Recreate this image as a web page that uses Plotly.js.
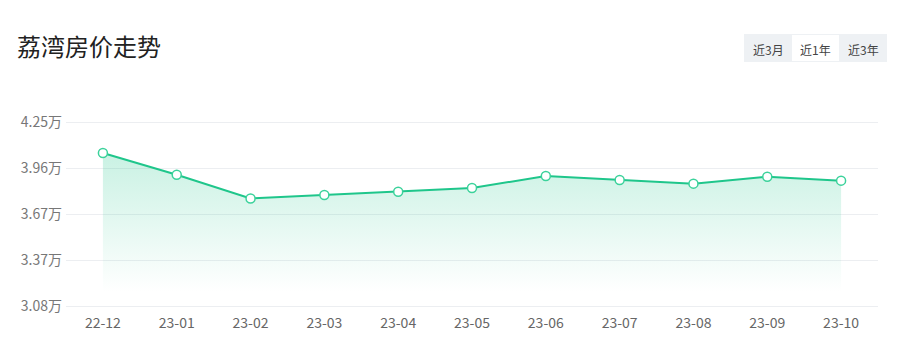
<!DOCTYPE html>
<html>
<head>
<meta charset="utf-8">
<script src="https://cdn.plot.ly/plotly-3.0.1.min.js"></script>
<style>
html,body{margin:0;padding:0;background:#fff;}
#chart{width:906px;height:358px;}
</style>
</head>
<body>
<div id="chart"></div>
<script>
// Data
const months = ['22-12','23-01','23-02','23-03','23-04','23-05','23-06','23-07','23-08','23-09','23-10'];
const prices = [4.053, 3.915, 3.764, 3.786, 3.807, 3.830, 3.907, 3.881, 3.858, 3.902, 3.877];
const yTickVals = [3.08, 3.3725, 3.665, 3.9575, 4.25];
const yTickText = ['3.08万', '3.37万', '3.67万', '3.96万', '4.25万'];
const titleText = '荔湾房价走势';
const buttonLabels = ['近3月', '近1年', '近3年'];

const W = 906, H = 358;
// plot area padded by 2px top/bottom so edge gridlines are drawn
const M = {l: 66, r: 28, t: 120, b: 50};
const PW = W - M.l - M.r, PH = H - M.t - M.b;
const px = x => (x - M.l) / PW;
const py = y => (H - M.b - y) / PH;
const yMin = yTickVals[0], yMax = yTickVals[yTickVals.length - 1];
const perPx = (yMax - yMin) / (PH - 4);

const green = '#1fc68b';
const font = '"Microsoft YaHei", "Noto Sans CJK SC", "Noto Sans", sans-serif';

const trace = {
  x: months,
  y: prices,
  type: 'scatter',
  mode: 'lines+markers',
  line: {color: green, width: 2},
  marker: {size: 9, color: '#ffffff', line: {color: '#3bd29b', width: 1.5}},
  fill: 'tozeroy',
  fillcolor: 'rgba(31,198,139,0.2)',
  fillgradient: {
    type: 'vertical',
    start: 3.17,
    stop: 4.05,
    colorscale: [[0, 'rgba(31,198,139,0)'], [1, 'rgba(31,198,139,0.24)']]
  },
  hoverinfo: 'x+y'
};

// Button group (segmented control)
const by0 = 34, by1 = 62;
const segEdges = [744, 792, 839, 887];
const shapes = [
  {type: 'rect', xref: 'paper', yref: 'paper', x0: px(segEdges[0]), x1: px(segEdges[3]), y0: py(by1), y1: py(by0),
   fillcolor: '#eef1f4', line: {width: 0}, layer: 'above'},
  {type: 'rect', xref: 'paper', yref: 'paper', x0: px(segEdges[1]), x1: px(segEdges[2]), y0: py(by1 - 1), y1: py(by0 + 1),
   fillcolor: '#ffffff', line: {width: 0}, layer: 'above'}
];
const annotations = buttonLabels.map((t, i) => ({
  text: t, xref: 'paper', yref: 'paper',
  x: px((segEdges[i] + segEdges[i + 1]) / 2), y: py(49),
  xanchor: 'center', yanchor: 'middle', showarrow: false,
  font: {family: font, size: 12, color: '#444'}
}));

const layout = {
  width: W, height: H,
  margin: M,
  paper_bgcolor: '#fff', plot_bgcolor: '#fff',
  showlegend: false,
  title: {
    text: titleText,
    x: 17 / W, xref: 'container', xanchor: 'left',
    y: 1 - 48 / H, yref: 'container', yanchor: 'middle',
    font: {family: font, size: 24, color: '#222'}
  },
  xaxis: {
    type: 'category',
    range: [-0.5, months.length - 0.5],
    showgrid: false, zeroline: false,
    showline: false,
    ticks: '',
    ticklabelstandoff: 5,
    tickfont: {family: font, size: 14, color: '#666'},
    fixedrange: true
  },
  yaxis: {
    range: [yMin - 2 * perPx, yMax + 2 * perPx],
    tickvals: yTickVals,
    ticktext: yTickText,
    showgrid: true, gridcolor: '#eceef1', gridwidth: 1,
    zeroline: false, showline: false, ticks: '',
    ticklabelstandoff: 3,
    tickfont: {family: font, size: 14, color: '#777'},
    fixedrange: true
  },
  shapes: shapes,
  annotations: annotations
};

Plotly.newPlot('chart', [trace], layout, {displayModeBar: false, staticPlot: true});
</script>
</body>
</html>
